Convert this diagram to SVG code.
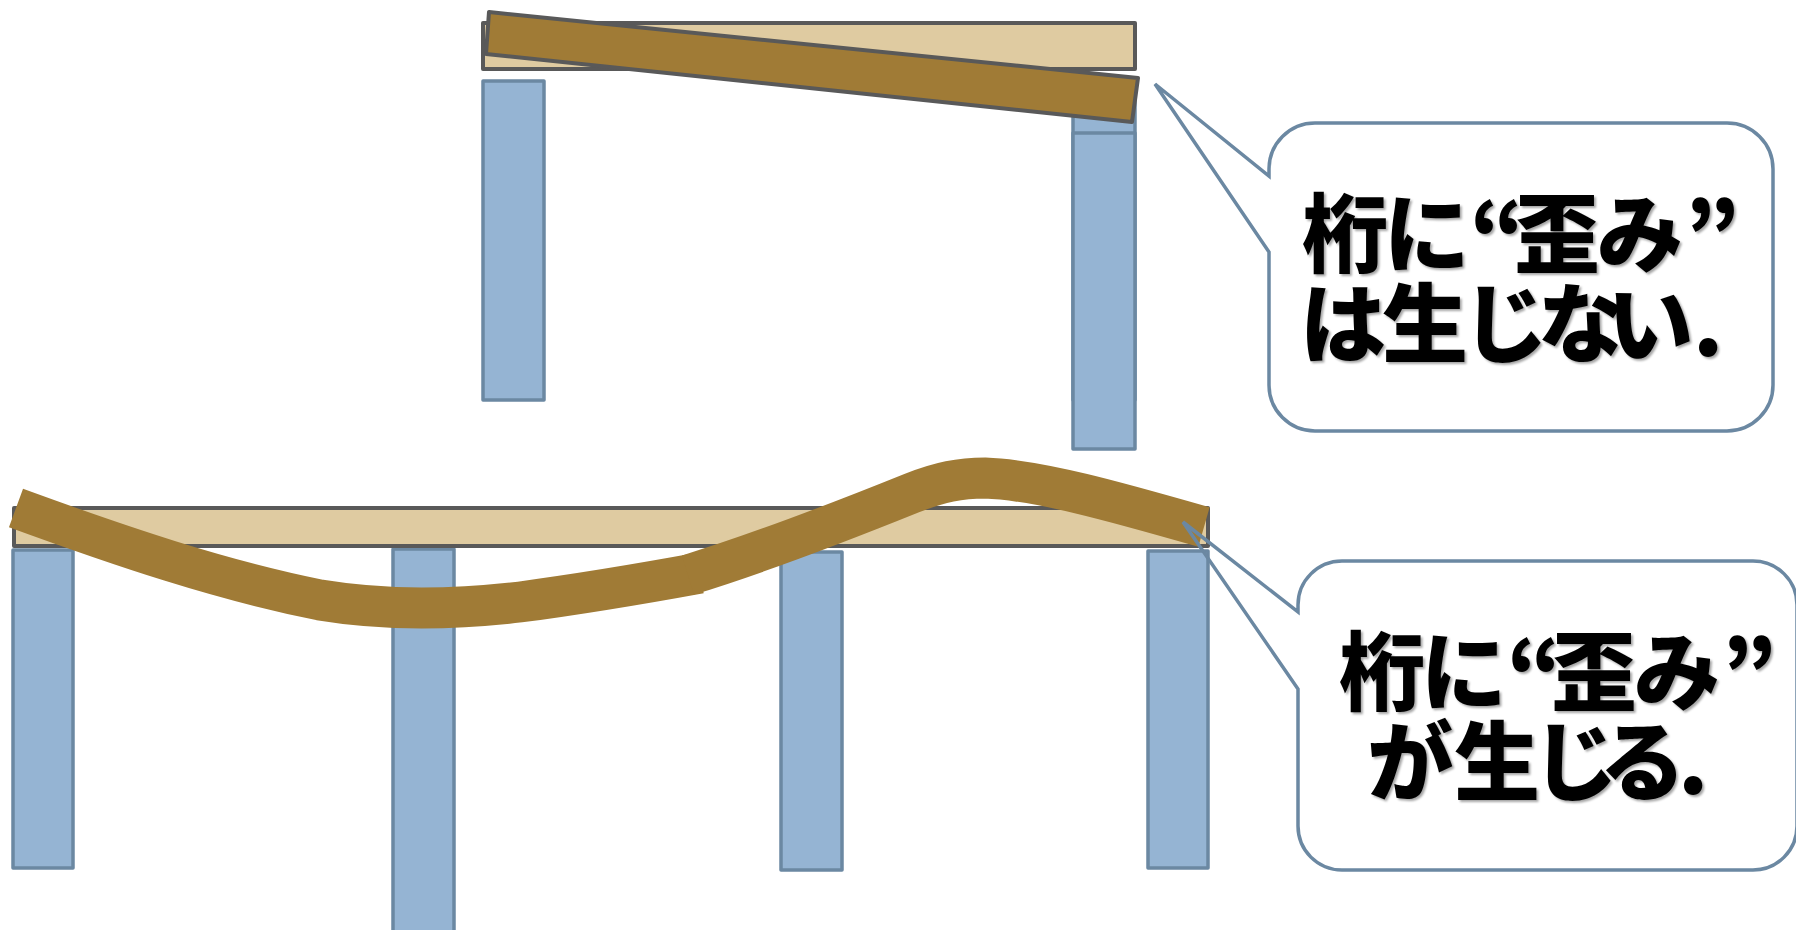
<svg xmlns="http://www.w3.org/2000/svg" width="1796" height="930" viewBox="0 0 1796 930">
  <defs>
    <style>
      .girder { fill: #DFCBA1; stroke: #595959; stroke-width: 4; stroke-linejoin: round; }
      .pier { fill: #95B4D3; stroke: #6B88A2; stroke-width: 3.5; stroke-linejoin: round; }
      .tilted { fill: #A07B36; stroke: #595959; stroke-width: 4; stroke-linejoin: round; }
      .warp { fill: none; stroke: #A07B36; stroke-width: 41; stroke-linecap: butt; stroke-linejoin: round; }
      .callout { fill: none; stroke: #6B88A2; stroke-width: 3.5; stroke-linejoin: miter; }
      .label { font-family: "Noto Sans CJK JP", "Noto Sans CJK SC", sans-serif; font-weight: 900; font-size: 86px; fill: #000; font-feature-settings: "palt"; filter: url(#shadow); }
    </style>
    <filter id="shadow" x="-10%" y="-20%" width="120%" height="140%">
      <feDropShadow dx="2" dy="2" stdDeviation="1.2" flood-color="#000" flood-opacity="0.35"/>
    </filter>
  </defs>
  <rect width="1796" height="930" fill="#fff"/>

  <!-- Upper span: simply supported girder on two piers -->
  <g id="upper-pier-left"><rect class="pier" x="483" y="81" width="61" height="319"/></g>
  <g id="upper-pier-right">
    <rect class="pier" x="1073" y="81" width="62" height="319"/>
    <rect class="pier" x="1073" y="133" width="62" height="316"/>
  </g>
  <g id="upper-girder"><rect class="girder" x="483" y="23" width="652" height="46"/></g>
  <g id="upper-girder-tilted"><polygon class="tilted" points="489,12 1138,78 1132,122 486,54"/></g>

  <!-- Lower span: continuous girder on four piers -->
  <g id="lower-pier-1"><rect class="pier" x="13" y="550" width="60" height="318"/></g>
  <g id="lower-pier-2"><rect class="pier" x="393" y="549" width="61" height="400"/></g>
  <g id="lower-pier-3"><rect class="pier" x="781" y="552" width="61" height="318"/></g>
  <g id="lower-pier-4"><rect class="pier" x="1148" y="551" width="60" height="317"/></g>
  <g id="lower-girder"><rect class="girder" x="14" y="508" width="1194" height="38"/></g>
  <g id="lower-girder-warped">
    <path class="warp" d="M16,508 C120,546 220,580 320,600 C380,610 450,610 520,602 C580,594 640,584 700,573"/>
    <path class="warp" d="M688,575 C760,553 840,522 912,493 C940,482 960,478 985,478 C1040,480 1120,503 1204,527"/>
  </g>

  <!-- Callouts -->
  <g id="callout-upper">
    <path class="callout" d="M1315,123 H1727 A46,46 0 0 1 1773,169 V385 A46,46 0 0 1 1727,431 H1315 A46,46 0 0 1 1269,385 V252 L1155,84 L1269,176 V169 A46,46 0 0 1 1315,123 Z"/>
    <text class="label"><tspan x="1302 1384 1470 1514 1597 1685" y="266">桁に“歪み”</tspan><tspan x="1300 1382 1466 1538 1608 1693" y="356">は生じない.</tspan></text>
  </g>
  <g id="callout-lower">
    <path class="callout" d="M1342,561 H1753 A44,44 0 0 1 1797,605 V826 A44,44 0 0 1 1753,870 H1342 A44,44 0 0 1 1298,826 V689 L1183,522 L1298,612 V605 A44,44 0 0 1 1342,561 Z"/>
    <text class="label"><tspan x="1339 1421 1507 1551 1634 1722" y="704">桁に“歪み”</tspan><tspan x="1367 1454 1536 1602 1678" y="794">が生じる.</tspan></text>
  </g>
</svg>
